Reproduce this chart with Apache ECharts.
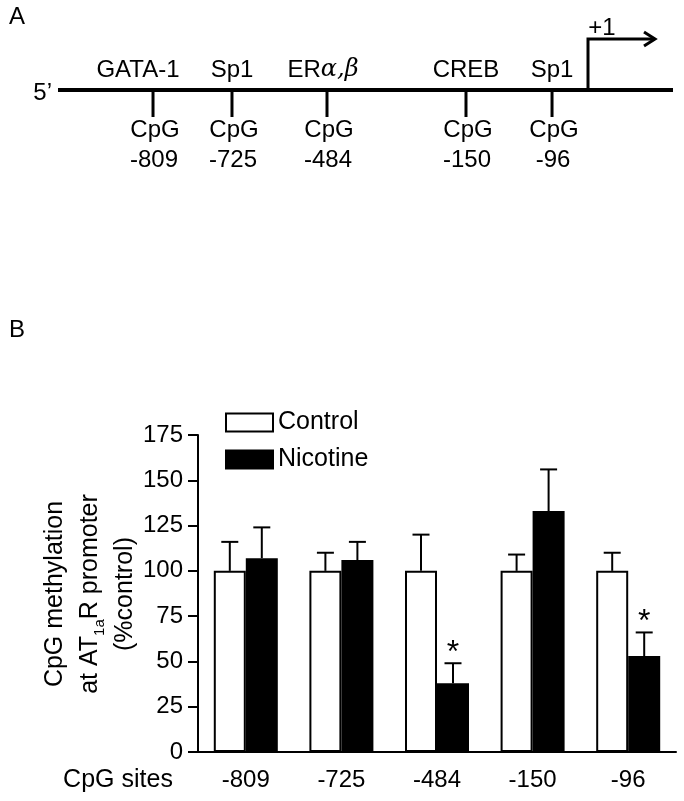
<!DOCTYPE html>
<html>
<head>
<meta charset="utf-8">
<script src="https://cdn.jsdelivr.net/npm/echarts@6/dist/echarts.min.js"></script>
<style>
html,body{margin:0;padding:0;background:#fff;}
#c{width:684px;height:801px;}
</style>
</head>
<body>
<div id="c"></div>
<script>
// ---- Panel B data ----
const categories = ['-809', '-725', '-484', '-150', '-96'];
const controlMean = [100, 100, 100, 100, 100];
const controlSEM = [16, 10, 20, 9, 10];
const nicotineMean = [107, 106, 38, 133, 53];
const nicotineSEM = [17, 10, 11, 23, 13];
const nicotineSignificant = [false, false, true, false, true];
const yMin = 0, yMax = 175, yStep = 25;

// ---- Panel A (schematic promoter map, diagram units 0-100) ----
const siteX = [15.45, 28.29, 43.74, 66.34, 80.33];
const siteFactors = ['GATA-1', 'Sp1', 'ERα,β', 'CREB', 'Sp1'];
const sitePositions = ['-809', '-725', '-484', '-150', '-96'];
const lineExtent = [0, 100];
const tssX = 86.18;
const tssLabel = '+1';

const FONT = "'Liberation Sans', Arial, sans-serif";
const chart = echarts.init(document.getElementById('c'), null, {renderer: 'canvas'});

function siteRender(params, api) {
  const i = params.dataIndex;
  const p = api.coord([api.value(0), 0]);
  const name = siteFactors[i];
  let tf;
  if (name.indexOf('α') >= 0) {
    tf = {type: 'text', style: {text: '{n|ER}{g|α,β}', x: p[0] - 4, y: p[1] - 20, align: 'center', verticalAlign: 'middle',
      rich: {n: {fontSize: 24, fontFamily: FONT, fill: '#000'}, g: {fontSize: 24, fontFamily: "'DejaVu Serif', 'Liberation Serif', serif", fontStyle: 'italic', fill: '#000'}}}};
  } else {
    tf = {type: 'text', style: {text: name, x: p[0] + (i === 0 ? -15 : 0), y: p[1] - 20, align: 'center', verticalAlign: 'middle', font: '24px ' + FONT, fill: '#000'}};
  }
  return {type: 'group', children: [
    {type: 'line', shape: {x1: p[0], y1: p[1], x2: p[0], y2: p[1] + 27}, style: {stroke: '#000', lineWidth: 3}},
    tf,
    {type: 'text', style: {text: 'CpG', x: p[0] + 2, y: p[1] + 40, align: 'center', verticalAlign: 'middle', font: '24px ' + FONT, fill: '#000'}},
    {type: 'text', style: {text: sitePositions[i], x: p[0] + 1, y: p[1] + 70, align: 'center', verticalAlign: 'middle', font: '24px ' + FONT, fill: '#000'}}
  ]};
}

function tssRender(params, api) {
  const p = api.coord([api.value(0), 0]);
  const top = p[1] - 51;
  const end = p[0] + 67;
  return {type: 'group', children: [
    {type: 'polyline', shape: {points: [[p[0], p[1]], [p[0], top], [end, top]]}, style: {stroke: '#000', lineWidth: 3, fill: null}},
    {type: 'polyline', shape: {points: [[end - 11, top - 7], [end, top], [end - 11, top + 7]]}, style: {stroke: '#000', lineWidth: 3, fill: null}},
    {type: 'text', style: {text: tssLabel, x: p[0] + 14, y: top - 11, align: 'center', verticalAlign: 'middle', font: '24px ' + FONT, fill: '#000'}}
  ]};
}

function errRender(params, api) {
  const idx = api.value(0);
  const mean = api.value(1);
  const sem = api.value(2);
  const side = api.value(3);
  const sig = api.value(4);
  const c = api.coord([idx, mean]);
  const capY = api.coord([idx, mean + sem])[1];
  const x = c[0] + side * 16;
  const children = [
    {type: 'line', shape: {x1: x, y1: c[1], x2: x, y2: capY}, style: {stroke: '#000', lineWidth: 2}},
    {type: 'line', shape: {x1: x - 8.5, y1: capY, x2: x + 8.5, y2: capY}, style: {stroke: '#000', lineWidth: 2}}
  ];
  if (sig) {
    children.push({type: 'text', style: {text: '*', x: x, y: capY - 10, align: 'center', verticalAlign: 'middle', font: '32px ' + FONT, fill: '#000'}});
  }
  return {type: 'group', children: children};
}

const errData = [];
categories.forEach((c, i) => {
  errData.push([i, controlMean[i], controlSEM[i], -1, 0]);
  errData.push([i, nicotineMean[i], nicotineSEM[i], 1, nicotineSignificant[i] ? 1 : 0]);
});

const option = {
  backgroundColor: '#fff',
  animation: false,
  textStyle: {fontFamily: FONT, color: '#000'},
  grid: [
    {left: 198, right: 8, top: 435, bottom: 49, containLabel: false},
    {left: 58, right: 11, top: 90, height: 100, containLabel: false}
  ],
  legend: {
    show: true, orient: 'vertical', left: 220, top: 405,
    itemWidth: 47, itemHeight: 18, itemGap: 12, icon: 'rect',
    textStyle: {fontSize: 25, color: '#000', fontFamily: FONT, lineHeight: 25},
    data: [
      {name: 'Control', icon: 'rect', itemStyle: {color: '#fff', borderColor: '#000', borderWidth: 2}},
      {name: 'Nicotine', icon: 'rect', itemStyle: {color: '#000', borderColor: '#000', borderWidth: 2}}
    ]
  },
  xAxis: [
    {type: 'category', gridIndex: 0, data: categories,
      axisLine: {show: true, lineStyle: {color: '#000', width: 2}},
      axisTick: {show: false},
      axisLabel: {color: '#000', fontSize: 24, fontFamily: FONT, margin: 16}},
    {type: 'value', gridIndex: 1, min: lineExtent[0], max: lineExtent[1], show: false}
  ],
  yAxis: [
    {type: 'value', gridIndex: 0, min: yMin, max: yMax, interval: yStep,
      axisLine: {show: true, lineStyle: {color: '#000', width: 2}},
      axisTick: {show: true, length: 10, lineStyle: {color: '#000', width: 2}},
      splitLine: {show: false},
      axisLabel: {color: '#000', fontSize: 24, fontFamily: FONT, margin: 15}},
    {type: 'value', gridIndex: 1, min: -1, max: 0, show: false}
  ],
  series: [
    {name: 'Control', type: 'bar', xAxisIndex: 0, yAxisIndex: 0, data: controlMean, barWidth: 32, barGap: '0%',
      itemStyle: {color: '#fff', borderColor: '#000', borderWidth: 2}},
    {name: 'Nicotine', type: 'bar', xAxisIndex: 0, yAxisIndex: 0, data: nicotineMean, barWidth: 32, barGap: '0%',
      itemStyle: {color: '#000', borderColor: '#000', borderWidth: 2}},
    {name: 'err', type: 'custom', xAxisIndex: 0, yAxisIndex: 0, data: errData, renderItem: errRender, z: 5, silent: true},
    {name: 'dna', type: 'line', xAxisIndex: 1, yAxisIndex: 1, data: [[lineExtent[0], 0], [lineExtent[1], 0]],
      symbol: 'none', lineStyle: {color: '#000', width: 4}, silent: true},
    {name: 'sites', type: 'custom', xAxisIndex: 1, yAxisIndex: 1, data: siteX.map(x => [x, 0]), renderItem: siteRender, silent: true},
    {name: 'tss', type: 'custom', xAxisIndex: 1, yAxisIndex: 1, data: [[tssX, 0]], renderItem: tssRender, silent: true}
  ],
  graphic: [
    {type: 'text', left: 9, top: 5, style: {text: 'A', font: '24px ' + FONT, fill: '#000'}},
    {type: 'text', x: 52, y: 93, style: {text: '5’', font: '24px ' + FONT, fill: '#000', align: 'right', verticalAlign: 'middle'}},
    {type: 'text', x: 17, y: 330, style: {text: 'B', font: '24px ' + FONT, fill: '#000', align: 'center', verticalAlign: 'middle'}},
    {type: 'text', x: 118, y: 780, style: {text: 'CpG sites', font: '25px ' + FONT, fill: '#000', align: 'center', verticalAlign: 'middle'}},
    {type: 'text', x: 90, y: 594, rotation: Math.PI / 2,
      style: {text: '{a|CpG methylation}\n{a|at AT}{s|1a}{a|R promoter}\n{a|(%control)}',
        align: 'center', verticalAlign: 'middle', fill: '#000',
        rich: {a: {fontSize: 25, fontFamily: FONT, lineHeight: 35, fill: '#000', align: 'center'},
               s: {fontSize: 15, fontFamily: FONT, lineHeight: 20, verticalAlign: 'bottom', fill: '#000'}}}}
  ]
};
chart.setOption(option);
</script>
</body>
</html>
